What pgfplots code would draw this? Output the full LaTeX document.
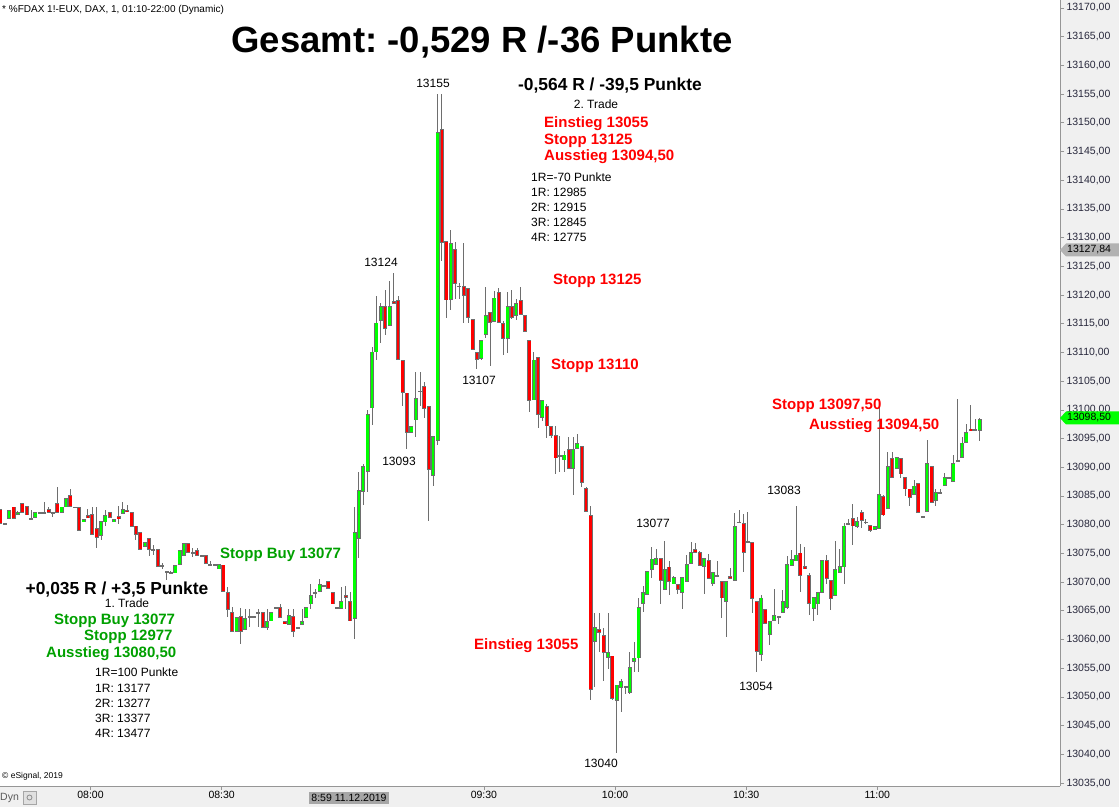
\documentclass[border=0pt]{standalone}
\usepackage{fontspec}
\setmainfont{Liberation Sans}
\usepackage{pgfplots}
\usepackage{pgfplotstable}
\pgfplotsset{compat=1.18}

\definecolor{upc}{RGB}{0,255,0}
\definecolor{downc}{RGB}{255,0,0}
\definecolor{wickc}{RGB}{110,110,110}
\definecolor{panel}{RGB}{240,240,240}
\definecolor{framec}{RGB}{150,150,150}
\definecolor{ticktxt}{RGB}{40,40,60}
\definecolor{gtxt}{RGB}{0,160,0}
\definecolor{rtxt}{RGB}{255,0,0}

% 1-minute candles, k = minute index (k=0 -> 07:39)
\pgfplotstableread{
k o h l c
0 13082.6 13082.8 13080.2 13080.3
1 13080.2 13080.4 13080.1 13080.2
2 13081.3 13082.6 13081.3 13082.6
3 13083.1 13083.1 13081.3 13081.3
4 13081.9 13082.6 13081.9 13082.1
5 13083.7 13083.7 13082.3 13082.3
6 13083.1 13083.1 13081.8 13081.8
7 13081.1 13082.6 13081.1 13081.1
8 13081.3 13082.1 13081.3 13082.1
9 13082.2 13082.2 13082.2 13082.2
10 13082.2 13084.1 13082.2 13082.2
11 13082.6 13083.2 13082.3 13082.3
12 13082.2 13082.2 13081.3 13082.2
13 13083.7 13086.7 13082.3 13082.3
14 13082.3 13083.1 13082.3 13083.1
15 13083.3 13084.6 13083.3 13084.6
16 13085.1 13086.2 13083.3 13083.3
17 13083.1 13083.1 13083.1 13083.1
18 13083.1 13083.1 13079.3 13079.3
19 13080.7 13081.0 13080.7 13081.0
20 13081.5 13082.7 13081.3 13081.3
21 13081.7 13083.2 13078.4 13078.4
22 13079.2 13083.2 13075.9 13077.8
23 13078.3 13080.6 13077.3 13080.6
24 13080.7 13082.7 13080.0 13081.6
25 13082.1 13082.1 13081.3 13081.3
26 13080.7 13081.0 13080.7 13081.0
27 13081.4 13083.4 13080.2 13081.2
28 13082.0 13084.0 13082.0 13082.6
29 13082.6 13083.4 13082.4 13082.5
30 13082.1 13082.1 13079.9 13079.9
31 13079.8 13079.8 13077.3 13078.4
32 13078.7 13078.7 13075.9 13075.9
33 13076.3 13076.8 13076.3 13076.8
34 13077.6 13077.6 13074.7 13075.9
35 13075.6 13076.5 13074.8 13075.6
36 13075.6 13075.6 13072.9 13072.9
37 13072.9 13073.4 13072.4 13072.9
38 13071.8 13071.8 13070.4 13071.8
39 13071.6 13072.0 13071.6 13071.6
40 13071.8 13072.9 13071.8 13072.9
41 13073.2 13075.6 13073.2 13075.6
42 13074.8 13076.7 13074.8 13076.7
43 13076.7 13076.7 13075.3 13075.3
44 13075.2 13075.9 13074.4 13075.2
45 13075.6 13076.0 13074.8 13074.8
46 13074.7 13074.7 13074.7 13074.7
47 13074.6 13074.6 13073.3 13073.3
48 13073.0 13073.8 13073.0 13073.0
49 13073.0 13073.0 13073.0 13073.0
50 13072.4 13073.1 13072.4 13073.1
51 13072.9 13073.0 13068.4 13068.5
52 13068.2 13069.2 13064.0 13065.4
53 13064.7 13065.7 13061.5 13061.5
54 13061.5 13063.7 13061.5 13063.7
55 13064.1 13065.5 13059.3 13061.5
56 13061.9 13065.4 13061.9 13063.7
57 13064.1 13065.4 13062.2 13064.1
58 13064.1 13064.1 13064.1 13064.1
59 13064.6 13065.4 13062.2 13064.6
60 13064.7 13064.7 13062.1 13062.1
61 13062.2 13065.4 13061.7 13063.2
62 13063.3 13064.7 13063.3 13064.7
63 13065.6 13065.6 13065.6 13065.6
64 13065.6 13066.3 13063.9 13063.9
65 13063.1 13063.1 13062.9 13062.9
66 13062.8 13065.4 13062.8 13064.1
67 13064.1 13065.4 13060.5 13061.5
68 13062.1 13062.1 13062.1 13062.1
69 13062.8 13065.4 13062.8 13063.1
70 13063.9 13065.6 13063.9 13065.6
71 13066.3 13069.8 13065.4 13067.6
72 13068.2 13068.9 13067.2 13068.2
73 13068.5 13070.7 13068.5 13069.6
74 13069.4 13069.4 13069.4 13069.4
75 13070.1 13070.1 13068.9 13068.9
76 13068.2 13068.2 13066.3 13066.3
77 13065.5 13065.5 13065.5 13065.5
78 13065.5 13069.3 13065.5 13066.6
79 13067.7 13069.3 13065.4 13067.4
80 13066.6 13068.3 13063.4 13063.4
81 13063.8 13083.1 13060.2 13078.6
82 13077.8 13089.2 13074.3 13086.1
83 13085.9 13090.7 13083.4 13090.1
84 13089.4 13100.0 13085.7 13099.1
85 13100.4 13111.0 13097.4 13110.0
86 13110.2 13120.0 13108.8 13115.1
87 13115.8 13118.8 13111.8 13118.0
88 13118.0 13120.9 13113.0 13114.3
89 13114.8 13122.6 13114.8 13118.0
90 13119.0 13123.9 13118.7 13118.7
91 13119.0 13119.9 13108.8 13108.9
92 13108.6 13108.6 13100.8 13103.2
93 13103.0 13103.0 13093.3 13096.3
94 13096.3 13097.2 13096.0 13097.2
95 13098.4 13106.6 13095.2 13102.0
96 13103.3 13106.6 13100.7 13103.3
97 13104.0 13104.8 13098.6 13100.3
98 13100.5 13100.5 13080.8 13089.8
99 13088.8 13095.5 13086.9 13095.5
100 13094.9 13155.0 13093.9 13148.3
101 13148.9 13155.0 13125.9 13129.3
102 13129.3 13129.3 13116.0 13119.3
103 13119.3 13131.4 13117.5 13129.0
104 13128.0 13129.3 13119.4 13122.2
105 13121.5 13122.3 13119.4 13121.5
106 13121.5 13129.1 13115.1 13120.2
107 13121.0 13121.2 13115.1 13116.2
108 13115.7 13115.7 13110.7 13110.7
109 13110.0 13110.0 13107.2 13108.9
110 13109.2 13112.1 13108.7 13112.1
111 13113.2 13121.5 13112.7 13116.4
112 13117.0 13117.0 13107.8 13115.4
113 13115.4 13120.7 13115.4 13119.4
114 13120.4 13121.2 13115.4 13115.4
115 13115.1 13115.4 13109.6 13112.6
116 13112.5 13120.6 13109.9 13118.0
117 13118.0 13121.0 13115.9 13116.2
118 13116.6 13119.4 13115.7 13118.6
119 13119.0 13121.5 13116.7 13116.7
120 13116.4 13116.4 13113.6 13113.7
121 13112.1 13112.1 13099.7 13101.8
122 13101.8 13110.1 13101.8 13108.6
123 13109.0 13109.0 13096.8 13099.2
124 13098.8 13101.6 13098.2 13101.6
125 13100.7 13101.1 13095.2 13097.4
126 13097.1 13097.1 13095.2 13095.8
127 13095.6 13097.2 13088.8 13091.8
128 13092.0 13095.6 13089.2 13092.0
129 13091.4 13093.0 13089.2 13092.1
130 13093.1 13095.3 13089.9 13089.9
131 13089.9 13095.3 13085.3 13093.1
132 13093.4 13095.9 13093.4 13094.2
133 13093.6 13093.6 13086.6 13087.5
134 13086.2 13086.7 13082.4 13082.4
135 13081.6 13083.3 13049.5 13051.5
136 13059.9 13064.8 13051.8 13062.1
137 13061.7 13064.7 13057.9 13061.4
138 13060.7 13062.2 13052.9 13057.9
139 13056.9 13064.8 13055.0 13057.7
140 13057.2 13057.2 13049.5 13049.9
141 13049.5 13052.1 13040.3 13052.1
142 13051.8 13053.2 13047.4 13052.7
143 13051.8 13051.8 13050.7 13051.8
144 13050.9 13057.9 13050.5 13055.1
145 13056.3 13059.6 13054.4 13056.7
146 13056.9 13067.2 13054.4 13065.6
147 13066.4 13069.3 13064.8 13068.2
148 13067.9 13071.8 13067.9 13071.8
149 13072.4 13076.3 13070.8 13074.1
150 13073.3 13075.7 13073.3 13074.1
151 13074.1 13074.1 13066.3 13070.4
152 13068.9 13077.2 13068.9 13072.2
153 13072.7 13073.7 13067.9 13070.4
154 13069.8 13071.2 13069.8 13070.7
155 13069.6 13069.6 13068.0 13068.9
156 13068.3 13070.7 13065.4 13070.7
157 13070.2 13074.7 13070.2 13073.1
158 13073.3 13077.0 13073.3 13075.1
159 13075.7 13077.0 13075.3 13075.3
160 13075.1 13075.6 13073.0 13073.0
161 13072.9 13074.1 13067.9 13074.1
162 13073.7 13075.0 13070.8 13070.8
163 13069.8 13071.6 13069.3 13071.6
164 13071.2 13073.8 13071.2 13071.2
165 13070.1 13070.1 13063.9 13067.3
166 13066.8 13070.1 13060.4 13070.1
167 13071.1 13072.4 13070.8 13070.8
168 13070.4 13082.0 13070.4 13079.7
169 13080.5 13082.6 13080.5 13080.5
170 13080.2 13082.0 13071.8 13075.3
171 13077.0 13082.3 13077.0 13077.0
172 13077.0 13077.0 13064.8 13067.3
173 13066.6 13066.6 13054.4 13058.0
174 13057.5 13067.7 13056.3 13067.2
175 13065.2 13065.2 13062.8 13062.8
176 13061.0 13063.1 13059.3 13063.1
177 13063.4 13068.8 13063.4 13064.1
178 13064.1 13064.1 13062.8 13064.1
179 13064.8 13068.8 13064.8 13066.6
180 13065.7 13074.7 13065.4 13073.1
181 13073.0 13075.7 13073.0 13074.0
182 13073.8 13083.3 13073.8 13074.7
183 13075.1 13076.7 13068.3 13071.3
184 13072.7 13076.2 13072.4 13072.4
185 13071.1 13071.6 13064.3 13066.3
186 13065.4 13067.2 13063.4 13067.2
187 13066.3 13068.2 13064.3 13068.2
188 13068.3 13073.7 13068.3 13073.7
189 13073.7 13074.7 13069.8 13070.8
190 13070.2 13070.2 13065.3 13067.3
191 13067.9 13077.2 13067.9 13072.2
192 13071.8 13075.9 13071.8 13072.8
193 13072.8 13080.2 13069.7 13079.8
194 13080.2 13081.1 13080.2 13080.2
195 13081.0 13083.7 13076.5 13079.9
196 13079.8 13081.5 13079.5 13080.5
197 13082.1 13082.8 13079.6 13080.8
198 13080.5 13081.0 13080.2 13080.5
199 13079.8 13079.8 13078.8 13079.1
200 13079.3 13079.8 13079.0 13079.6
201 13079.5 13102.0 13079.5 13085.2
202 13085.0 13085.2 13081.5 13081.9
203 13083.0 13092.7 13083.0 13090.2
204 13091.6 13092.7 13088.4 13088.4
205 13089.8 13091.6 13089.8 13091.6
206 13091.6 13091.6 13088.1 13089.0
207 13088.1 13088.1 13085.2 13086.3
208 13086.2 13086.2 13083.4 13084.9
209 13085.3 13087.8 13085.3 13086.6
210 13087.2 13087.2 13082.3 13082.3
211 13081.5 13081.5 13081.5 13081.5
212 13082.4 13094.8 13082.4 13090.7
213 13090.1 13090.1 13084.0 13084.0
214 13084.3 13086.3 13083.4 13085.5
215 13085.5 13086.3 13085.5 13085.5
216 13086.9 13089.0 13086.9 13088.1
217 13088.3 13088.3 13088.3 13088.3
218 13087.8 13092.1 13087.8 13090.7
219 13091.2 13102.0 13091.2 13091.2
220 13091.9 13095.3 13091.9 13094.2
221 13094.5 13097.7 13094.5 13096.0
222 13096.6 13100.8 13096.4 13096.4
223 13096.5 13098.5 13096.5 13096.5
224 13096.6 13098.5 13094.5 13098.4
}\candles

\newcommand{\fs}[1]{\fontsize{#1}{#1}\selectfont}

\pgfplotsset{candle/.style={only marks, mark=*, mark size=0pt,
  mark options={draw=none, fill=none},
  error bars/y dir=both, error bars/y explicit, error bars/error mark=none}}

\begin{document}
\frenchspacing
\begin{tikzpicture}[x=1pt,y=1pt]
\fill[panel] (0,0) rectangle (1119,21);
\fill[panel] (1060,0) rectangle (1119,807);
\begin{axis}[
  at={(0pt,21pt)}, anchor=south west,
  scale only axis, width=1060pt, height=786pt,
  xmin=-0.11, xmax=242.4,
  ymin=13034.48, ymax=13171.39,
  axis x line*=bottom, axis y line*=right,
  axis line style={framec, line width=0.8pt},
  tick align=outside,
  scaled y ticks=false,
  ytick={13035,13040,13045,13050,13055,13060,13065,13070,13075,13080,13085,13090,13095,13100,
         13105,13110,13115,13120,13125,13130,13135,13140,13145,13150,13155,13160,13165,13170},
  yticklabels={{13035,00},{13040,00},{13045,00},{13050,00},{13055,00},{13060,00},{13065,00},
    {13070,00},{13075,00},{13080,00},{13085,00},{13090,00},{13095,00},{13100,00},{13105,00},
    {13110,00},{13115,00},{13120,00},{13125,00},{13130,00},{13135,00},{13140,00},{13145,00},
    {13150,00},{13155,00},{13160,00},{13165,00},{13170,00}},
  y tick style={framec, line width=0.6pt},
  major tick length=4pt,
  yticklabel style={font=\fs{10.5}, text=ticktxt, xshift=-1pt},
  xtick={20.6,50.6,110.6,140.6,170.6,200.6},
  xticklabels={08:00,08:30,09:30,10:00,10:30,11:00},
  x tick style={framec, line width=0.6pt},
  xticklabel style={font=\fs{10.5}, text=black, yshift=2pt},
  clip=false,
]
% wicks
\addplot[candle, error bars/error bar style={wickc, line width=1pt}]
  table[x=k, y expr={(\thisrow{h}+\thisrow{l})/2}, y error expr={(\thisrow{h}-\thisrow{l})/2}] {\candles};
% body outline
\addplot[candle, error bars/error bar style={wickc, line width=4pt}]
  table[x=k, y expr={(\thisrow{o}+\thisrow{c})/2}, y error expr={abs(\thisrow{o}-\thisrow{c})/2+0.15}] {\candles};
% rising bodies
\addplot[candle, restrict expr to domain={\thisrow{c}-\thisrow{o}}{0.01:1000},
  error bars/error bar style={upc, line width=2.4pt}]
  table[x=k, y expr={(\thisrow{o}+\thisrow{c})/2}, y error expr={abs(\thisrow{o}-\thisrow{c})/2}] {\candles};
% falling bodies
\addplot[candle, restrict expr to domain={\thisrow{o}-\thisrow{c}}{0.01:1000},
  error bars/error bar style={downc, line width=2.4pt}]
  table[x=k, y expr={(\thisrow{o}+\thisrow{c})/2}, y error expr={abs(\thisrow{o}-\thisrow{c})/2}] {\candles};
\end{axis}

% price markers on the right scale
\fill[black!30] (1060,557) -- (1066,563.5) -- (1119,563.5) -- (1119,550.5) -- (1066,550.5) -- cycle;
\node[anchor=west, font=\fs{10.5}, inner sep=0] at (1067,557) {13127,84};
\fill[upc] (1060,389) -- (1066,395.5) -- (1119,395.5) -- (1119,382.5) -- (1066,382.5) -- cycle;
\node[anchor=west, font=\fs{10.5}, inner sep=0] at (1067,389) {13098,50};

% bottom bar
\node[anchor=center, font=\fs{10.5}, fill=black!35, inner sep=2pt] at (349,9) {8:59 11.12.2019};
\node[anchor=west, font=\fs{10.5}, text=black!65, inner sep=0] at (0,9) {Dyn};
\draw[black!35, fill=black!12] (23,3) rectangle (36,16);
\draw[black!45, line width=0.8pt] (29.5,9.5) circle (2.5);

% header and texts
\node[anchor=west, font=\fs{10}, inner sep=0] at (2,797) {* \%FDAX 1!-EUX, DAX, 1, 01:10-22:00 (Dynamic)};
\node[font=\fs{36.5}\bfseries, inner sep=0] at (482,765) {Gesamt: -0,529 R /-36 Punkte};
\node[anchor=west, font=\fs{8.5}, inner sep=0] at (2,31) {© eSignal, 2019};

\begin{scope}[every node/.style={inner sep=0, font=\fs{12}}]
\node at (433,724) {13155};
\node at (381,545) {13124};
\node at (479,427) {13107};
\node at (399,346) {13093};
\node at (784,317) {13083};
\node at (653,284) {13077};
\node at (601,44) {13040};
\node at (756,121) {13054};
\node at (596,703) {2. Trade};
\node at (127,204) {1. Trade};
\node[anchor=west] at (531,630) {1R=-70 Punkte};
\node[anchor=west] at (531,615) {1R: 12985};
\node[anchor=west] at (531,600) {2R: 12915};
\node[anchor=west] at (531,585) {3R: 12845};
\node[anchor=west] at (531,570) {4R: 12775};
\node[anchor=west] at (95,135) {1R=100 Punkte};
\node[anchor=west] at (95,119) {1R: 13177};
\node[anchor=west] at (95,104) {2R: 13277};
\node[anchor=west] at (95,89) {3R: 13377};
\node[anchor=west] at (95,74) {4R: 13477};
\end{scope}

\begin{scope}[every node/.style={inner sep=0, font=\fs{17.4}\bfseries}]
\node at (610,721) {-0,564 R / -39,5 Punkte};
\node at (117,217) {+0,035 R / +3,5 Punkte};
\end{scope}

\begin{scope}[every node/.style={inner sep=0, anchor=west, font=\fs{15}\bfseries, text=rtxt}]
\node at (544,683) {Einstieg 13055};
\node at (544,666) {Stopp 13125};
\node at (544,650) {Ausstieg 13094,50};
\node at (553,526) {Stopp 13125};
\node at (551,441) {Stopp 13110};
\node at (772,401) {Stopp 13097,50};
\node at (809,381) {Ausstieg 13094,50};
\node at (474,161) {Einstieg 13055};
\end{scope}

\begin{scope}[every node/.style={inner sep=0, anchor=west, font=\fs{15}\bfseries, text=gtxt}]
\node at (220,252) {Stopp Buy 13077};
\node at (54,186) {Stopp Buy 13077};
\node at (84,170) {Stopp 12977};
\node at (46,153) {Ausstieg 13080,50};
\end{scope}
\pgfresetboundingbox
\useasboundingbox (0,0) rectangle (1119,807);
\end{tikzpicture}
\end{document}
